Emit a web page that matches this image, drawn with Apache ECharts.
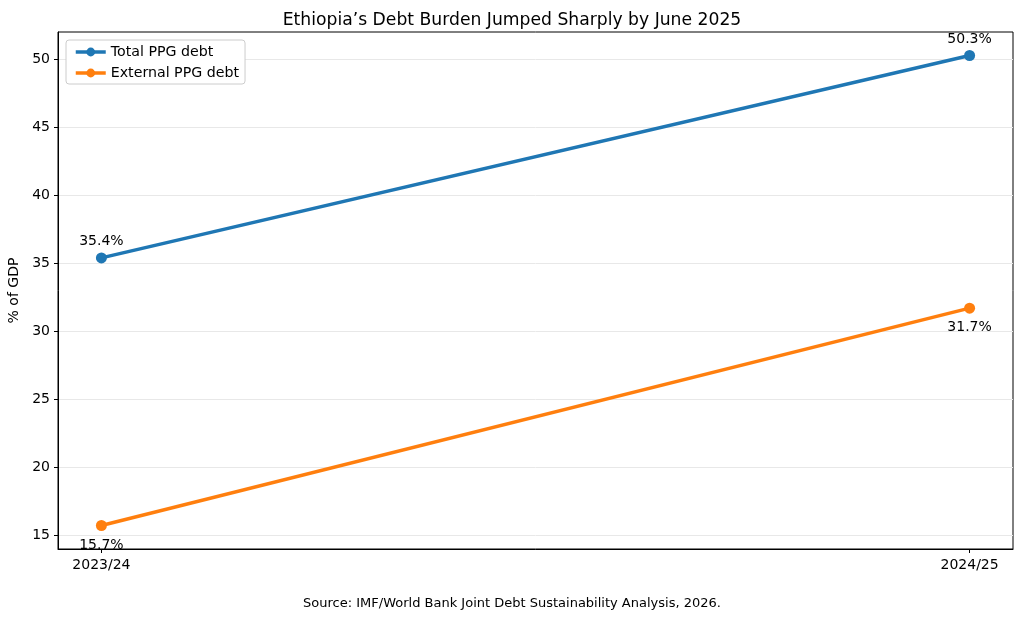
<!DOCTYPE html>
<html><head><meta charset="utf-8">
<script src="https://cdn.jsdelivr.net/npm/echarts@6/dist/echarts.min.js"></script>
<style>html,body{margin:0;padding:0;background:#fff}#c{width:1024px;height:622px}</style>
</head><body><div id="c"></div>
<script>
const categories = ['2023/24', '2024/25'];
const totalDebt = [35.4, 50.3];
const externalDebt = [15.7, 31.7];
const yTicks = [15, 20, 25, 30, 35, 40, 45, 50];

const F = 'DejaVu Sans';
const chart = echarts.init(document.getElementById('c'), null, {renderer: 'canvas'});
const lo = Math.min(...externalDebt), hi = Math.max(...totalDebt);
const pad = (hi - lo) * 0.05;
chart.setOption({
  animation: false,
  title: {text: 'Ethiopia’s Debt Burden Jumped Sharply by June 2025', left: 'center', top: 7,
    textStyle: {fontFamily: F, fontSize: 17.2, fontWeight: 'normal', color: '#000'}},
  graphic: [{type: 'text', left: 'center', top: 597,
    style: {text: 'Source: IMF/World Bank Joint Debt Sustainability Analysis, 2026.', font: '13px "DejaVu Sans"', fill: '#000'}}],
  legend: {orient: 'vertical', left: 66, top: 40, itemWidth: 30, itemHeight: 11, itemGap: 7,
    padding: [5, 6, 4, 8], borderColor: '#cccccc', borderWidth: 1, borderRadius: 3, backgroundColor: '#fff',
    lineStyle: {width: 3.5},
    textStyle: {fontFamily: F, fontSize: 14.2, color: '#000'}},
  grid: {left: 58, right: 11, top: 32, bottom: 73, containLabel: false, outerBoundsMode: 'none',
    show: true, borderColor: '#000', borderWidth: 1, backgroundColor: 'transparent'},
  xAxis: {type: 'value', min: -0.05, max: 1.05,
    axisLine: {show: true, onZero: false, lineStyle: {color: '#000'}},
    axisTick: {show: true, length: 4, customValues: [0, 1], lineStyle: {color: '#000'}},
    axisLabel: {customValues: [0, 1], formatter: v => categories[Math.round(v)] || '', fontFamily: F, fontSize: 14, color: '#000', margin: 9},
    splitLine: {show: false}},
  yAxis: {type: 'value', min: lo - pad, max: hi + pad,
    name: '% of GDP', nameLocation: 'middle', nameGap: 34, nameTextStyle: {fontFamily: F, fontSize: 14, color: '#000'},
    axisLine: {show: true, onZero: false, lineStyle: {color: '#000'}},
    axisTick: {show: true, length: 4, customValues: yTicks, lineStyle: {color: '#000'}},
    axisLabel: {customValues: yTicks, fontFamily: F, fontSize: 14, color: '#000', margin: 8},
    splitLine: {show: false}},
  series: [
    {name: 'Total PPG debt', type: 'line', data: totalDebt.map((v, i) => [i, v]), color: '#1f77b4',
      lineStyle: {width: 3.5}, symbol: 'circle', symbolSize: 11,
      label: {show: true, position: 'top', distance: 4, formatter: p => p.value[1].toFixed(1) + '%', fontFamily: F, fontSize: 14, color: '#000'},
      markLine: {silent: true, symbol: 'none', label: {show: false}, lineStyle: {color: '#e8e8e8', width: 1, type: 'solid'},
        data: yTicks.map(v => ({yAxis: v})), z: 0}, z: 3},
    {name: 'External PPG debt', type: 'line', data: externalDebt.map((v, i) => [i, v]), color: '#ff7f0e',
      lineStyle: {width: 3.5}, symbol: 'circle', symbolSize: 11,
      label: {show: true, position: 'bottom', distance: 7, formatter: p => p.value[1].toFixed(1) + '%', fontFamily: F, fontSize: 14, color: '#000'}, z: 3}
  ]
});
</script></body></html>
